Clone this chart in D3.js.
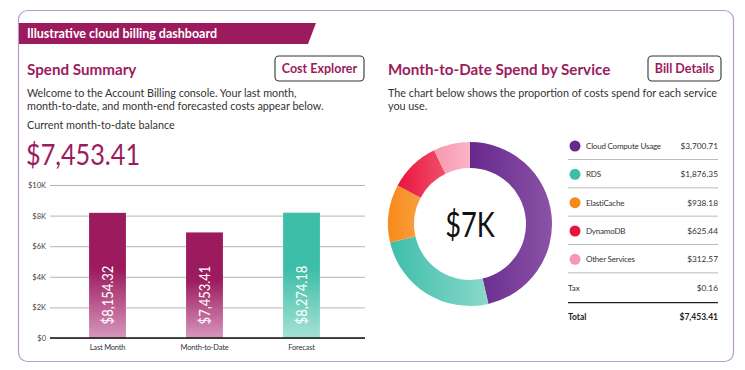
<!DOCTYPE html>
<html>
<head>
<meta charset="utf-8">
<script src="https://cdn.jsdelivr.net/npm/d3@7"></script>
<style>
  body { margin: 0; background: #fff; }
  svg { display: block; }
  text { font-family: Lato, "Open Sans", sans-serif; }
</style>
</head>
<body>
<script>
var width = 745;
var height = 370;
var magenta = '#9c1b5e';

// bar chart
var barCategories = ['Last Month', 'Month-to-Date', 'Forecast'];
var barHeights = [8180, 6900, 8190];          // as drawn in the picture
var barLabels = ['$8,154.32', '$7,453.41', '$8,274.18'];
var yTicks = [0, 2000, 4000, 6000, 8000, 10000];
var yTickLabels = ['$0', '$2K', '$4K', '$6K', '$8K', '$10K'];

// donut + legend
var services = ['Cloud Compute Usage', 'RDS', 'ElastiCache', 'DynamoDB', 'Other Services'];
var serviceCosts = ['$3,700.71', '$1,876.35', '$938.18', '$625.44', '$312.57'];
var arcShares = [46.4, 25.0, 11.4, 10.0, 7.2];  // share of ring as drawn
var serviceColors = [['#67288d', '#8a53a6'], ['#3dbea8', '#8ad8cb'], ['#f7891a', '#f9a040'],
                     ['#e8143e', '#f0506a'], ['#f797b0', '#fbb5c6']];
var taxLabel = '$0.16';
var totalLabel = '$7,453.41';

var svg = d3.select('body').append('svg').attr('width', width).attr('height', height);
var defs = svg.append('defs');
var arial = '"Liberation Sans", Arial, sans-serif';

// card
svg.append('rect').attr('x', 18.5).attr('y', 10.5).attr('width', 715).attr('height', 351)
  .attr('rx', 9).attr('fill', '#fff').attr('stroke', '#b89cc8').attr('stroke-width', 1.2);

// banner
svg.append('path').attr('d', 'M19,23 L316,23 L308,44 L19,44 Z').attr('fill', magenta);
svg.append('text').attr('x', 27).attr('y', 38).attr('fill', '#fff')
  .attr('font-size', 12.5).attr('font-weight', 700).text('Illustrative cloud billing dashboard');

var button = function(x, y, w, label) {
  svg.append('rect').attr('x', x).attr('y', y).attr('width', w).attr('height', 25)
    .attr('rx', 4).attr('fill', '#fff').attr('stroke', '#333').attr('stroke-width', 1.1);
  svg.append('text').attr('x', x + w / 2).attr('y', y + 17).attr('text-anchor', 'middle')
    .attr('fill', magenta).attr('font-size', 12.5).attr('font-weight', 700).text(label);
};

var para = function(x, y, lines) {
  lines.forEach(function(l, i) {
    svg.append('text').attr('x', x).attr('y', y + i * 13).attr('fill', '#333')
      .attr('font-size', 10.8).text(l);
  });
};

// left panel
svg.append('text').attr('x', 27).attr('y', 75).attr('fill', magenta)
  .attr('font-size', 15.2).attr('font-weight', 700).text('Spend Summary');
button(275, 56, 89, 'Cost Explorer');
para(27, 97, ['Welcome to the Account Billing console. Your last month,',
              'month-to-date, and month-end forecasted costs appear below.']);
para(27, 129, ['Current month-to-date balance']);
svg.append('text').attr('transform', 'translate(26,165) scale(0.87,1)').attr('fill', magenta)
  .attr('font-family', arial).attr('font-size', 29).text('$7,453.41');

var y = d3.scaleLinear().domain([0, 10000]).range([338, 185]);
var x = d3.scaleBand().domain(barCategories).range([59, 350])
  .paddingInner(0.62).paddingOuter(0.31);

var yAxis = svg.append('g').attr('transform', 'translate(50,0)')
  .call(d3.axisLeft(y).tickValues(yTicks).tickSize(-315)
    .tickFormat(function(d, i) { return yTickLabels[i]; }));
yAxis.select('.domain').remove();
yAxis.selectAll('line').attr('stroke', '#b5b5b5');
yAxis.selectAll('text').attr('x', -4).attr('fill', '#444').attr('font-size', 7.5);

[[magenta, '#d797bd'], ['#3dbea8', '#a6e1d6']].forEach(function(c, i) {
  var g = defs.append('linearGradient').attr('id', 'bar' + i)
    .attr('x1', 0).attr('y1', 0).attr('x2', 0).attr('y2', 1);
  g.append('stop').attr('offset', '0').attr('stop-color', c[0]);
  g.append('stop').attr('offset', '0.45').attr('stop-color', c[0]);
  g.append('stop').attr('offset', '1').attr('stop-color', c[1]);
});

svg.selectAll('.bar').data(barHeights).enter().append('rect')
  .attr('x', function(d, i) { return x(barCategories[i]); })
  .attr('y', function(d) { return y(d); })
  .attr('width', x.bandwidth())
  .attr('height', function(d) { return y(0) - y(d); })
  .attr('fill', function(d, i) { return i === 2 ? 'url(#bar1)' : 'url(#bar0)'; });

svg.selectAll('.barlabel').data(barLabels).enter().append('text')
  .attr('transform', function(d, i) {
    return 'translate(' + (x(barCategories[i]) + x.bandwidth() / 2 + 5.5) +
      ',295) rotate(-90) scale(0.84,1)';
  })
  .attr('text-anchor', 'middle').attr('fill', '#fff')
  .attr('font-family', arial).attr('font-size', 15.5)
  .text(function(d) { return d; });

svg.append('line').attr('x1', 50).attr('x2', 365).attr('y1', y(0)).attr('y2', y(0))
  .attr('stroke', '#111').attr('stroke-width', 1.3);

svg.selectAll('.xlabel').data(barCategories).enter().append('text')
  .attr('x', function(d) { return x(d) + x.bandwidth() / 2; })
  .attr('y', 350).attr('text-anchor', 'middle').attr('fill', '#333')
  .attr('font-size', 7.5).attr('letter-spacing', -0.2).text(function(d) { return d; });

// right panel
svg.append('text').attr('x', 388).attr('y', 75).attr('fill', magenta)
  .attr('font-size', 15.2).attr('font-weight', 700).text('Month-to-Date Spend by Service');
button(648, 56, 73, 'Bill Details');
para(388, 97, ['The chart below shows the proportion of costs spend for each service',
               'you use.']);

serviceColors.forEach(function(c, i) {
  var g = defs.append('linearGradient').attr('id', 'arc' + i)
    .attr('x1', 0).attr('y1', 0).attr('x2', 1).attr('y2', 0);
  g.append('stop').attr('offset', '0').attr('stop-color', c[0]);
  g.append('stop').attr('offset', '1').attr('stop-color', c[1]);
});

var pie = d3.pie().sort(null).value(function(d) { return d; });
var arc = d3.arc().innerRadius(56).outerRadius(82);
var donut = svg.append('g').attr('transform', 'translate(470,224)');
donut.selectAll('path').data(pie(arcShares)).enter().append('path')
  .attr('d', arc).attr('fill', function(d, i) { return 'url(#arc' + i + ')'; });
donut.append('text').attr('y', 13).attr('transform', 'scale(0.8,1)')
  .attr('text-anchor', 'middle').attr('fill', '#111')
  .attr('font-family', arial).attr('font-size', 34).text('$7K');

// legend table
var rowY = d3.scalePoint().domain(d3.range(7)).range([146, 316]);
var lx0 = 568, lx1 = 718;
services.forEach(function(s, i) {
  var cy = rowY(i);
  svg.append('circle').attr('cx', 575).attr('cy', cy).attr('r', 5.5)
    .attr('fill', serviceColors[i][0]);
  svg.append('text').attr('x', 586).attr('y', cy + 3).attr('fill', '#333')
    .attr('font-size', 8).attr('letter-spacing', -0.2).text(s);
  svg.append('text').attr('x', lx1).attr('y', cy + 3).attr('text-anchor', 'end')
    .attr('fill', '#333').attr('font-size', 8.3).text(serviceCosts[i]);
  svg.append('line').attr('x1', lx0).attr('x2', lx1)
    .attr('y1', cy + 13.5).attr('y2', cy + 13.5).attr('stroke', '#bbb');
});
svg.append('text').attr('x', lx0).attr('y', rowY(5) + 3).attr('fill', '#333')
  .attr('font-size', 8).text('Tax');
svg.append('text').attr('x', lx1).attr('y', rowY(5) + 3).attr('text-anchor', 'end')
  .attr('fill', '#333').attr('font-size', 8.3).text(taxLabel);
svg.append('line').attr('x1', lx0).attr('x2', lx1)
  .attr('y1', rowY(5) + 15).attr('y2', rowY(5) + 15).attr('stroke', '#222').attr('stroke-width', 1.3);
svg.append('text').attr('x', lx0).attr('y', rowY(6) + 4).attr('fill', '#222')
  .attr('font-size', 8.5).attr('font-weight', 700).text('Total');
svg.append('text').attr('x', lx1).attr('y', rowY(6) + 4).attr('text-anchor', 'end')
  .attr('fill', '#222').attr('font-size', 8.5).attr('font-weight', 700).text(totalLabel);
</script>
</body>
</html>
